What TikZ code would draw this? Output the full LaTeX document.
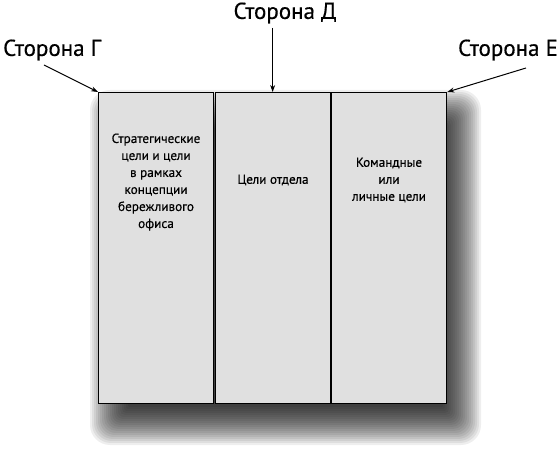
\documentclass[tikz,border=0pt]{standalone}
\usepackage{fontspec}
\setmainfont[FakeBold=0.4]{PT Sans}
\usetikzlibrary{arrows.meta}
\begin{document}
\begin{tikzpicture}[x=1pt,y=-1pt,
  panel/.style={draw=black,line width=1.3pt,fill=black!12,minimum width=115pt,minimum height=311pt,inner sep=0pt,anchor=north west},
  ptext/.style={align=center,font=\fontsize{13.2}{17}\selectfont,anchor=north},
  side/.style={font=\fontsize{23}{26}\selectfont,inner sep=0pt},
  arr/.style={-{Stealth[length=7pt,width=5pt]},line width=1pt}]
\useasboundingbox (0,0) rectangle (560,454);
% shadow
\foreach \i in {0,...,19}{
  \fill[black,opacity=0.065,rounded corners={(20-\i)*1pt}]
    (110-20+2*\i,110-20+2*\i) rectangle (461+20-2*\i,425+20-2*\i);
}
\node[panel] (p1) at (98,92) {};
\node[panel] (p2) at (214.5,92) {};
\node[panel] (p3) at (331,92) {};
\node[ptext] (t1) at (156,130) {Стратегические\\цели и цели\\в рамках\\концепции\\бережливого\\офиса};
\node[ptext] (t2) at (273,171) {Цели отдела};
\node[ptext] (t3) at (389,154) {Командные\\или\\личные цели};
\node[side] (sg) at (52,50) {Сторона Г};
\node[side] (sd) at (285,13) {Сторона Д};
\node[side] (se) at (508,50) {Сторона Е};
\draw[arr] (44,65) -- (p1.north west);
\draw[arr] (p2.north |- 0,28) -- (p2.north);
\draw[arr] (526,68) -- (p3.north east);
\end{tikzpicture}
\end{document}
